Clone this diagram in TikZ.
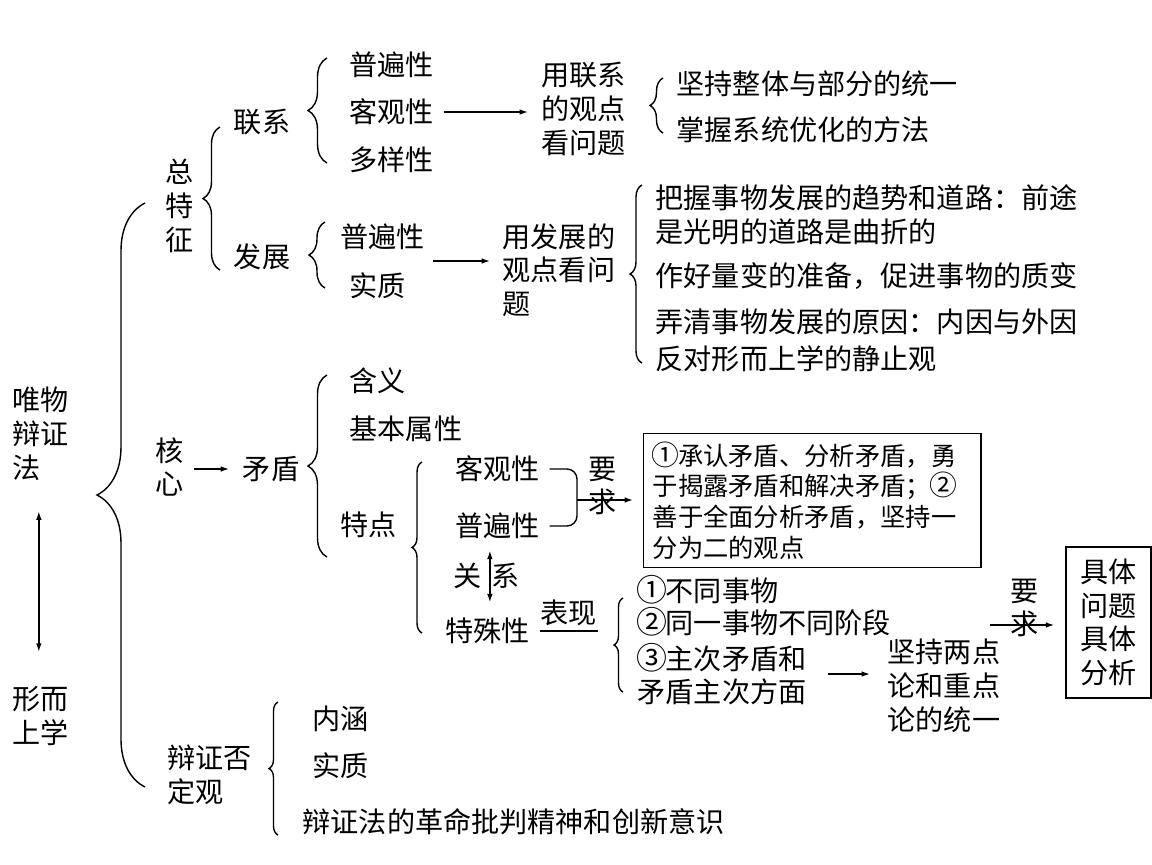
\documentclass[tikz,border=0pt]{standalone}
\usepackage{fontspec}
\setmainfont{Noto Sans CJK SC}
\usetikzlibrary{arrows.meta,decorations.pathreplacing,positioning}
% full-width circled numbers
\newcommand{\cnum}[1]{\makebox[1em]{\scalebox{1.1}{#1}}}

\begin{document}
\begin{tikzpicture}[
  x=0.025cm, y=-0.025cm,                   % one unit = one pixel of the sheet
  line width=1pt,
  txt/.style   = {inner sep=0pt,
                  align=left,
                  font=\fontsize{20pt}{24pt}\selectfont},
  small/.style = {font=\fontsize{18pt}{22pt}\selectfont},
  brc/.style   = {decorate, decoration={brace, amplitude=#1}},
  arrow/.style = {-{Latex[length=6pt,width=4pt]}},
  both/.style  = {{Latex[length=6pt,width=4pt]}-{Latex[length=6pt,width=4pt]}}
]
\useasboundingbox (0,0) rectangle (1152,864);

% left column
\node[txt, anchor=west] (wwbz) at (12,434) {唯物\\辩证\\法};
\node[txt, anchor=west] (xesx) at (12,716) {形而\\上学};
\draw[both, shorten <=0.75cm, shorten >=0.85cm]
  ([xshift=-0.05cm]wwbz.south) -- ([xshift=-0.05cm]wwbz.south |- xesx.north);
\draw[brc=1.2cm] (145,787) -- (145,203);

% 总特征
\node[txt, align=center] (zt) at (180,206) {总\\特\\征};
\draw[brc=0.425cm] (220,270) -- (220,127);
\node[txt] (lx) at (262,122) {联系};
\node[txt] (fz) at (262,257) {发展};

\draw[brc=0.475cm] (327,163) -- (327,58);
\node[txt, anchor=west] (lx1) at (349,65)  {普遍性};
\node[txt, anchor=west] (lx2) at (349,112) {客观性};
\node[txt, anchor=west] (lx3) at (349,160) {多样性};
\node[txt, anchor=west] (lxgd) at (541,109) {用联系\\的观点\\看问题};
\draw[arrow, shorten <=0.22cm, shorten >=0.325cm] (lx2.east) -- (lx2.east -| lxgd.west);
\draw[brc=0.325cm] (663,133) -- (663,78);
\node[txt, anchor=west] (lxa) at (676,84)  {坚持整体与部分的统一};
\node[txt, anchor=west] (lxb) at (676,130) {掌握系统优化的方法};

\draw[brc=0.4cm] (325,288) -- (325,222);
\node[txt, anchor=west] (fz1) at (340,237) {普遍性};
\node[txt, anchor=west] (fz2) at (349,286) {实质};
\node[txt, anchor=west] (fzgd) at (502,270) {用发展的\\观点看问\\题};
\coordinate (fzm) at (433,261);
\draw[arrow, shorten >=0.3cm] (fzm) -- (fzm -| fzgd.west);
\draw[brc=0.3cm] (642,363) -- (642,185);
\node[txt, anchor=west] (fza) at (655,215) {把握事物发展的趋势和道路：前途\\是光明的道路是曲折的};
\node[txt, anchor=west] (fzb) at (655,276) {作好量变的准备，促进事物的质变};
\node[txt, anchor=west] (fzc) at (655,322) {弄清事物发展的原因：内因与外因};
\node[txt, anchor=west] (fzd) at (655,359) {反对形而上学的静止观};

% 核心
\node[txt, align=center] (hx) at (170,467) {核\\心};
\node[txt] (md) at (271,469) {矛盾};
\draw[arrow, shorten <=0.225cm, shorten >=0.325cm] (hx.east |- md.west) -- (md.west);
\draw[brc=0.475cm] (327,557) -- (327,375);
\node[txt, anchor=west] (md1) at (349,381) {含义};
\node[txt, anchor=west] (md2) at (349,429) {基本属性};
\node[txt, anchor=west] (md3) at (340,525) {特点};

\draw[brc=0.25cm] (422,633) -- (422,462);
\node[txt, anchor=west] (kg) at (455,469) {客观性};
\node[txt, anchor=west] (pb) at (455,526) {普遍性};
\node[txt, anchor=west] (tsx) at (445,631) {特殊性};
\node[txt] (gx1) at (468,576) {关};
\node[txt] (gx2) at (506,576) {系};
\draw[both, shorten <=0.275cm, shorten >=0.375cm]
  ([xshift=-0.2cm]pb.south) -- ([xshift=-0.2cm]pb.south |- tsx.north);

\coordinate (yqm) at (577,500);
\draw[rounded corners=0.25cm] ([xshift=0.22cm]kg.east) -| (yqm) |- ([xshift=0.22cm]pb.east);
\node[txt, align=center] (yq1) at (603,486) {要\\求};
\node[draw, small, inner xsep=0.225cm, inner ysep=0pt, text width=7.975cm,
      align=left, minimum height=3.35cm, anchor=north west] (box) at (643,433)
  {\cnum{①}承认矛盾、分析矛盾，勇\\于揭露矛盾和解决矛盾；\cnum{②}\\善于全面分析矛盾，坚持一\\分为二的观点};
\draw[arrow, shorten >=0.25cm] (yqm) -- (yqm -| box.west);

\draw ([xshift=0.22cm]tsx.east) -- node[txt, above=0.12cm] (bx) {表现} ++(58,0);
\draw[brc=0.225cm] (623,692) -- (623,598);
\node[txt, anchor=west] (ts1) at (637,590) {\cnum{①}不同事物};
\node[txt, anchor=west] (ts2) at (637,622) {\cnum{②}同一事物不同阶段};
\node[txt, anchor=west] (ts3) at (637,674) {\cnum{③}主次矛盾和\\矛盾主次方面};
\node[txt, anchor=west] (ldl) at (887,686) {坚持两点\\论和重点\\论的统一};
\draw[arrow, shorten <=0.53cm, shorten >=0.425cm] (ts3.east) -- (ts3.east -| ldl.west);

\node[txt, align=center] (yq2) at (1025,608) {要\\求};
\node[draw, txt, align=center, minimum width=2.125cm, minimum height=3.775cm]
  (jt) at (1108.5,622.5) {具体\\问题\\具体\\分析};
\coordinate (yq2s) at (990,625);
\draw[arrow, shorten >=0.275cm] (yq2s) -- (yq2s -| jt.west);

% 辩证否定观
\node[txt, anchor=west] (bz) at (167,775) {辩证否\\定观};
\draw[brc=0.225cm] (278,835) -- (278,702);
\node[txt, anchor=west] (bz1) at (312,719) {内涵};
\node[txt, anchor=west] (bz2) at (312,766) {实质};
\node[txt, anchor=west] (bz3) at (302,822) {辩证法的革命批判精神和创新意识};

\end{tikzpicture}
\end{document}
